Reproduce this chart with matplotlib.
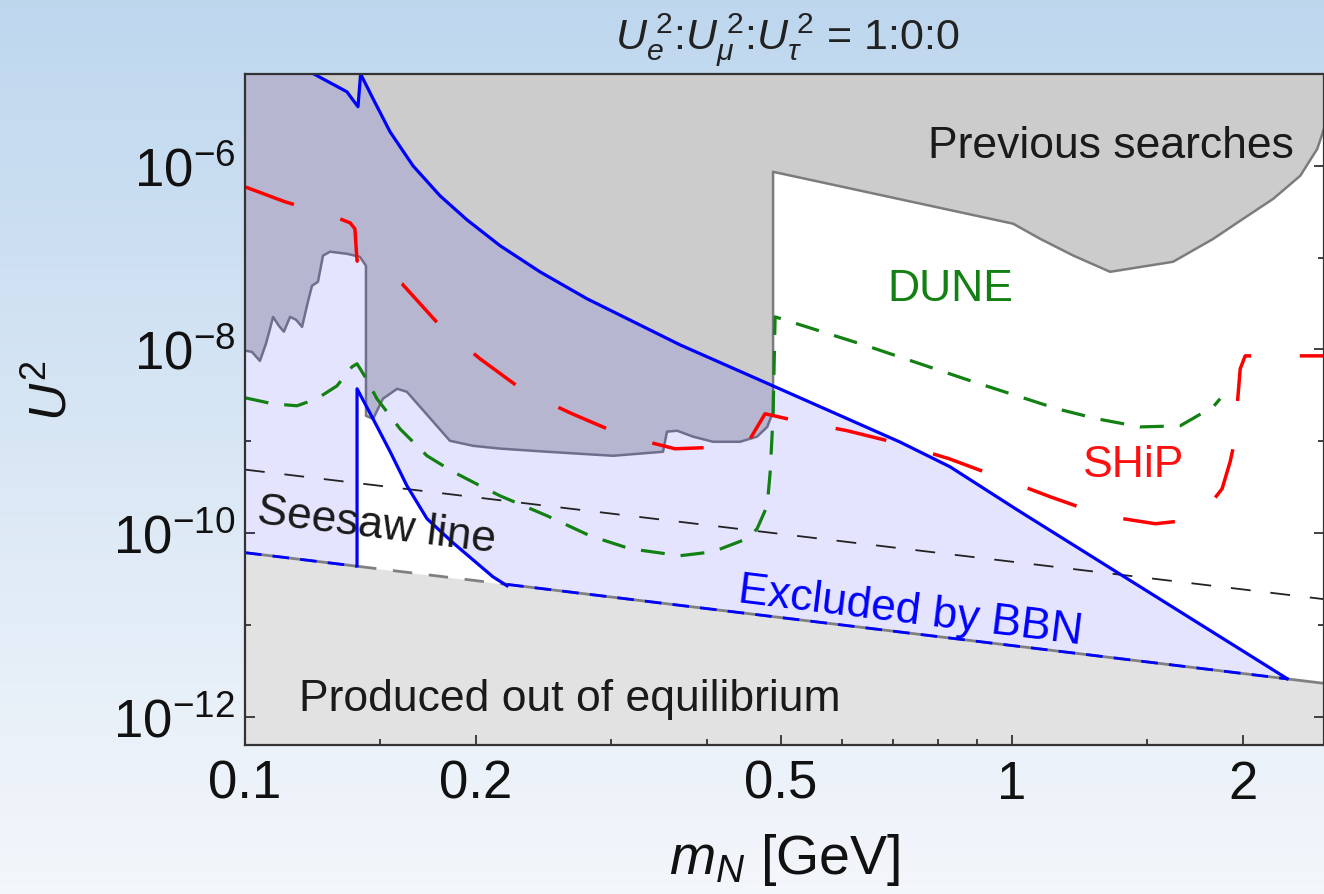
import numpy as np
import matplotlib
matplotlib.use('Agg')
import matplotlib.pyplot as plt
from matplotlib.ticker import FixedLocator, FixedFormatter, NullFormatter

plt.rcParams['font.family'] = ['Liberation Sans', 'DejaVu Sans']
plt.rcParams['mathtext.fontset'] = 'custom'
plt.rcParams['mathtext.rm'] = 'Liberation Sans'
plt.rcParams['mathtext.it'] = 'Liberation Sans:italic'
plt.rcParams['mathtext.bf'] = 'Liberation Sans:bold'

# axis ranges
XMIN, XMAX = 0.1, 2.55
YMIN, YMAX = 4.9e-13, 1.0e-5

# previous searches (lower boundary of the grey region)
PREV_M = [0.1, 0.1021, 0.1046, 0.1065, 0.1078, 0.1088, 0.1107, 0.1124, 0.1145, 0.1166,
          0.1187, 0.1208, 0.1223, 0.1245, 0.1264, 0.1291, 0.1358, 0.1412, 0.1438, 0.1438,
          0.1469, 0.1513, 0.1579, 0.1626, 0.185, 0.1983, 0.215, 0.2476, 0.3019, 0.3507,
          0.3549, 0.3659, 0.3838, 0.4075, 0.4419, 0.4651, 0.4795, 0.488, 0.488, 1.003,
          1.088, 1.202, 1.342, 1.621, 1.829, 1.983, 2.19, 2.375, 2.499, 2.55]
PREV_U2 = [9.7e-9, 9.4e-9, 7.5e-9, 1.15e-8, 1.67e-8, 2.26e-8, 1.81e-8, 1.56e-8, 2.26e-8, 2.1e-8,
           1.76e-8, 3.3e-8, 4.93e-8, 5.45e-8, 1.05e-7, 1.16e-7, 1.1e-7, 1.02e-7, 8.15e-8, 1.89e-9,
           1.75e-9, 2.9e-9, 3.72e-9, 3.45e-9, 1.01e-9, 8.9e-10, 8.3e-10, 7.67e-10, 6.93e-10, 7.67e-10,
           1.27e-9, 1.3e-9, 1.12e-9, 9.85e-10, 9.85e-10, 1.12e-9, 1.43e-9, 2.09e-9, 8.6e-7, 2.34e-7,
           1.6e-7, 1.05e-7, 7.0e-8, 9.0e-8, 1.6e-7, 2.52e-7, 4.37e-7, 7.8e-7, 1.53e-6, 2.53e-6]

# BBN upper bound
BBN_M = [0.123, 0.1358, 0.1404, 0.1415, 0.1469, 0.1546, 0.1656, 0.1796, 0.1947, 0.215,
         0.2424, 0.2792, 0.3691, 0.488, 0.714, 0.83, 1.015, 2.284]
BBN_U2 = [1.0e-5, 6.4e-6, 4.4e-6, 1.0e-5, 5.37e-6, 2.34e-6, 1.0e-6, 4.71e-7, 2.58e-7, 1.35e-7,
          7.0e-8, 3.56e-8, 1.12e-8, 4.0e-9, 9.8e-10, 5.26e-10, 1.79e-10, 2.58e-12]

# BBN allowed window near the pion threshold
TRI_M = [0.140, 0.140, 0.1469, 0.1546, 0.1626, 0.1727, 0.1867, 0.2105, 0.2196]
TRI_U2 = [4.4e-11, 3.72e-9, 1.75e-9, 7.7e-10, 3.27e-10, 1.43e-10, 7.82e-11, 3.33e-11, 2.66e-11]

# equilibration line and seesaw line
EQ_M = [0.1, 2.55]
EQ_U2 = [6.1e-11, 2.3e-12]
SEESAW_M = [0.1, 2.55]
SEESAW_U2 = [4.9e-10, 1.9e-11]

# DUNE sensitivity
DUNE_M = [0.1, 0.1088, 0.1169, 0.1241, 0.1318, 0.1379, 0.140, 0.1434, 0.1486, 0.1593,
          0.1727, 0.1867, 0.2025, 0.215, 0.2476, 0.2818, 0.3177, 0.3691, 0.4075, 0.4513,
          0.4651, 0.4795, 0.4838, 0.488, 0.491, 0.647, 0.890, 1.145, 1.291, 1.469,
          1.656, 1.829, 1.867]
DUNE_U2 = [2.97e-9, 2.55e-9, 2.43e-9, 2.9e-9, 4.0e-9, 6.46e-9, 6.97e-9, 5.04e-9, 2.9e-9, 1.36e-9,
           6.93e-10, 4.65e-10, 3.27e-10, 2.54e-10, 1.54e-10, 9.3e-11, 6.73e-11, 5.65e-11, 6.24e-11, 8.65e-11,
           1.11e-10, 1.98e-10, 4.65e-10, 1.89e-9, 2.26e-8, 1.09e-8, 4.44e-9, 2.25e-9, 1.75e-9, 1.43e-9,
           1.47e-9, 2.37e-9, 2.9e-9]

# SHiP sensitivity
SHIP_M = [0.1, 0.1128, 0.131, 0.1371, 0.1391, 0.140, 0.150, 0.1602, 0.1796, 0.2025,
          0.2318, 0.2669, 0.3111, 0.3637, 0.4289, 0.4555, 0.4764, 0.529, 0.5654, 0.6095,
          0.714, 0.828, 0.973, 1.121, 1.318, 1.537, 1.671, 1.801, 1.878, 1.924,
          1.953, 1.965, 1.983, 2.013, 2.36, 2.55]
SHIP_U2 = [5.9e-7, 4.05e-7, 2.78e-7, 2.39e-7, 2.06e-7, 9.2e-8, 7.2e-8, 5.19e-8, 1.81e-8, 7.9e-9,
           3.45e-9, 1.99e-9, 1.15e-9, 8.26e-10, 8.7e-10, 1.06e-9, 1.99e-9, 1.63e-9, 1.47e-9, 1.3e-9,
           9.37e-10, 6.43e-10, 3.89e-10, 2.48e-10, 1.54e-10, 1.26e-10, 1.36e-10, 1.93e-10, 3.03e-10, 5.97e-10,
           1.06e-9, 2.43e-9, 6.15e-9, 8.5e-9, 8.5e-9, 8.5e-9]

X_MAJOR = [0.1, 0.2, 0.5, 1, 2]
X_LABELS = ['0.1', '0.2', '0.5', '1', '2']
X_MINOR = [0.15, 0.3, 0.4, 0.6, 0.7, 0.8, 0.9, 1.5]
Y_MAJOR = [1e-12, 1e-10, 1e-8, 1e-6]
Y_LABELS = [r'$\mathregular{10^{-12}}$', r'$\mathregular{10^{-10}}$',
            r'$\mathregular{10^{-8}}$', r'$\mathregular{10^{-6}}$']
Y_MINOR = [1e-11, 1e-9, 1e-7, 1e-5]

# label name, m, U2, color, rotation
LABELS = [('Previous searches', 1.346, 1.65e-6, '#1a1a1a', 0),
          ('DUNE', 0.83, 4.57e-8, '#128012', 0),
          ('SHiP', 1.442, 5.53e-10, '#ff1010', 0),
          ('Seesaw line', 0.1483, 1.2e-10, '#1a1a1a', -7),
          ('Excluded by BBN', 0.736, 1.42e-11, '#0000ff', -7),
          ('Produced out of equilibrium', 0.2654, 1.56e-12, '#1a1a1a', 0)]


def eq_line(m):
    return 10 ** np.interp(np.log10(m), np.log10(EQ_M), np.log10(EQ_U2))


fig = plt.figure(figsize=(13.24, 8.95), dpi=100)

# blue-white backdrop
bg = fig.add_axes([0, 0, 1, 1], zorder=-10)
t = np.linspace(0, 1, 256)[:, None, None]
c_top = np.array([0.745, 0.843, 0.933])
c_bot = np.array([0.955, 0.967, 0.985])
bg.imshow(c_top + (c_bot - c_top) * t, aspect='auto', extent=[0, 1, 0, 1])
bg.axis('off')

ax = fig.add_axes([0.185, 0.1665, 0.815, 0.7497])
ax.set_xscale('log')
ax.set_yscale('log')
ax.set_facecolor('white')

# produced out of equilibrium
ax.fill_between(EQ_M, YMIN, EQ_U2, color='#e2e2e2', lw=0, zorder=1)

# previous searches
ax.fill(PREV_M + [XMAX, XMIN], PREV_U2 + [YMAX, YMAX], color='#cccccc', lw=0, zorder=2)
ax.plot(PREV_M, PREV_U2, color='#7c7c80', lw=1.8, zorder=3)

# BBN excluded region
m_lo, m_tri, m_hi = TRI_M[-1], TRI_M[0], BBN_M[-1]
poly_m = ([XMIN, XMIN] + BBN_M + [m_lo] + TRI_M[::-1] + [XMIN])
poly_u = ([eq_line(XMIN), YMAX] + BBN_U2 + [eq_line(m_lo)] + TRI_U2[::-1] + [eq_line(XMIN)])
poly_u[len(BBN_M) + 1] = eq_line(m_hi)
ax.fill(poly_m, poly_u, color=(0, 0, 1, 0.105), lw=0, zorder=4)

# seesaw line
ax.plot(SEESAW_M, SEESAW_U2, color='#222222', lw=1.3, dashes=(11, 11), zorder=5)

# DUNE and SHiP
ax.plot(DUNE_M, DUNE_U2, color='#128012', lw=2.3, dashes=(7.5, 5), zorder=6)
ax.plot(SHIP_M, SHIP_U2, color='#ff0000', lw=2.5, dashes=(15, 14), zorder=7)

# equilibration line pieces
ax.plot([m_tri, m_lo], [eq_line(m_tri), eq_line(m_lo)], color='#808080', lw=2.0, dashes=(7, 6), zorder=8)
ax.plot([m_hi, XMAX], [eq_line(m_hi), eq_line(XMAX)], color='#808080', lw=2.0, zorder=8)
for a, b in [(XMIN, m_tri), (m_lo, m_hi)]:
    ax.plot([a, b], [eq_line(a), eq_line(b)], color='#808080', lw=2.0, zorder=8)
    ax.plot([a, b], [eq_line(a), eq_line(b)], color='#0000ff', lw=2.0, dashes=(6, 4), zorder=9)

# BBN bounds
ax.plot(BBN_M, BBN_U2, color='#0000ff', lw=2.3, zorder=10)
ax.plot(TRI_M, TRI_U2, color='#0000ff', lw=2.3, zorder=10)

ax.set_xlim(XMIN, XMAX)
ax.set_ylim(YMIN, YMAX)

for txt, xm, yu, col, rot in LABELS:
    ax.text(xm, yu, txt, color=col, fontsize=32, rotation=rot, rotation_mode='anchor',
            ha='center', va='center', zorder=12)

ax.xaxis.set_major_locator(FixedLocator(X_MAJOR))
ax.xaxis.set_major_formatter(FixedFormatter(X_LABELS))
ax.xaxis.set_minor_locator(FixedLocator(X_MINOR))
ax.xaxis.set_minor_formatter(NullFormatter())
ax.yaxis.set_major_locator(FixedLocator(Y_MAJOR))
ax.yaxis.set_major_formatter(FixedFormatter(Y_LABELS))
ax.yaxis.set_minor_locator(FixedLocator(Y_MINOR))
ax.yaxis.set_minor_formatter(NullFormatter())

ax.tick_params(which='both', direction='in', top=True, right=True, color='#333333', width=1.3,
               labelsize=38, labelcolor='#111111')
ax.tick_params(which='major', length=7.5)
ax.tick_params(which='minor', length=4.5)
ax.tick_params(axis='x', pad=10)
ax.tick_params(axis='y', pad=7)
for s in ax.spines.values():
    s.set_color('#333333')
    s.set_linewidth(1.6)
    s.set_zorder(20)

ax.set_xlabel(r'$m_N$ [GeV]', fontsize=40, color='#111111', labelpad=16)
ax.set_ylabel(r'$U^2$', fontsize=37, color='#111111')
ax.yaxis.set_label_coords(-0.155, 0.53)

fig.text(787 / 1324, 1 - 41 / 895,
         r'$U_e^{\;2}$:$U_\mu^{\;2}$:$U_\tau^{\;2}$ = 1:0:0',
         fontsize=31, ha='center', va='center', color='#222222')

fig.savefig('out.png', dpi=100)
